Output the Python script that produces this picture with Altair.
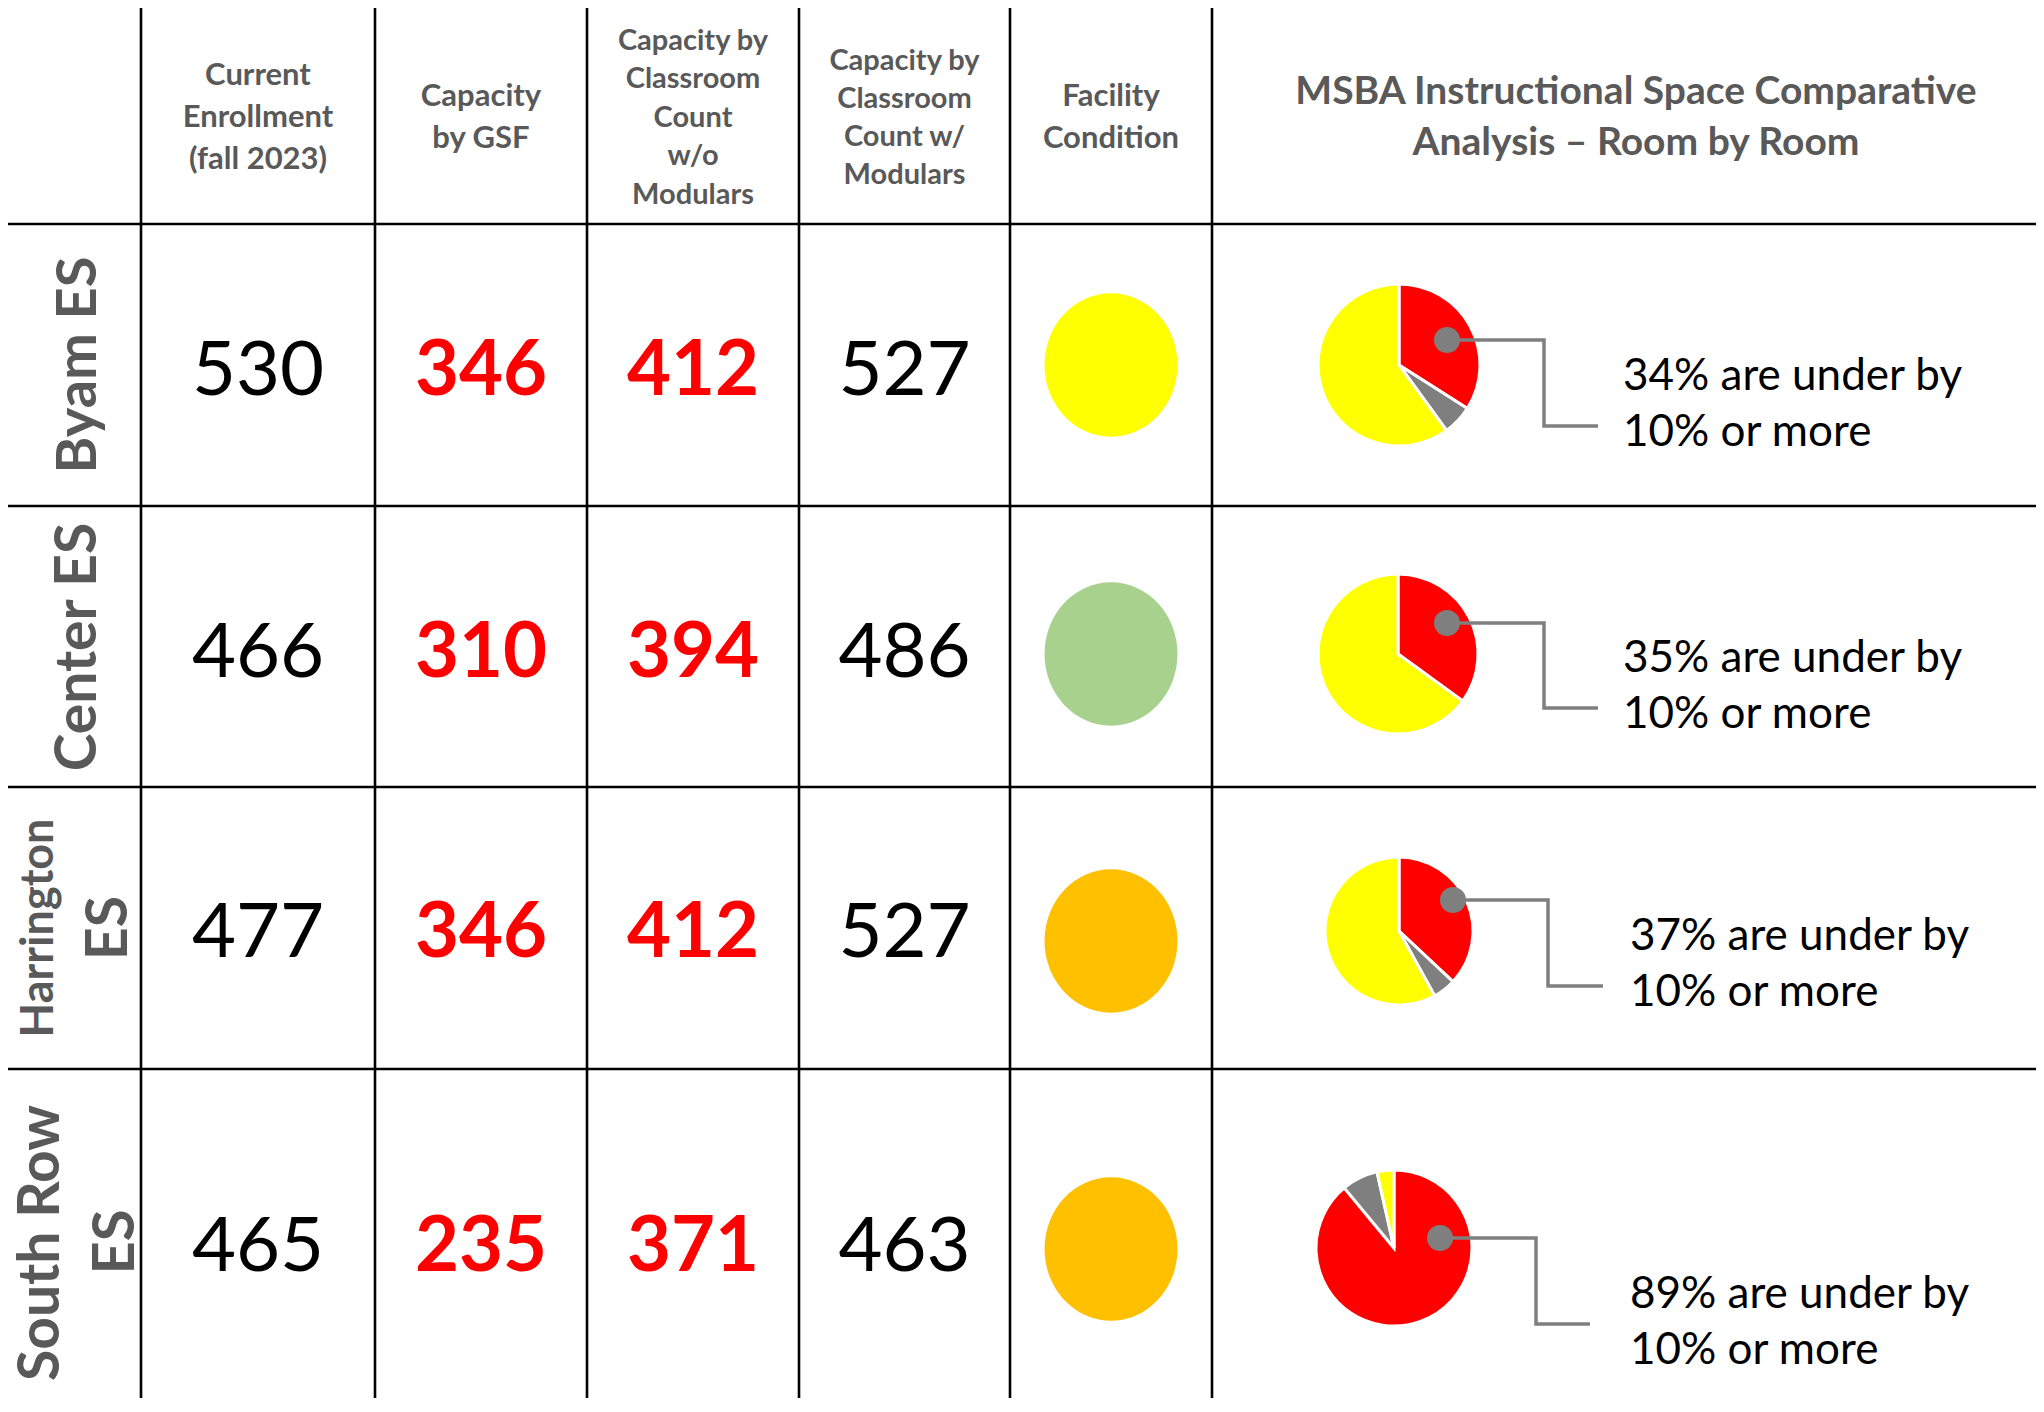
import math
import altair as alt
import pandas as pd

# ------------------------------------------------------------------ data
schools = ["Byam ES", "Center ES", "Harrington ES", "South Row ES"]
school_label_lines = [["Byam ES"], ["Center ES"], ["Harrington", "ES"], ["South Row", "ES"]]
current_enrollment = [530, 466, 477, 465]
capacity_by_gsf = [346, 310, 346, 235]
capacity_classroom_wo_modulars = [412, 394, 412, 371]
capacity_classroom_w_modulars = [527, 486, 527, 463]
facility_condition = ["Fair", "Good", "Poor", "Poor"]
pct_under_10_or_more = [34, 35, 37, 89]
pct_over_10_or_more = [6, 0, 5, 7.5]
pct_within_10 = [60, 65, 58, 3.5]
column_headers = [
    ["Current", "Enrollment", "(fall 2023)"],
    ["Capacity", "by GSF"],
    ["Capacity by", "Classroom", "Count", "w/o", "Modulars"],
    ["Capacity by", "Classroom", "Count w/", "Modulars"],
    ["Facility", "Condition"],
    ["MSBA Instructional Space Comparative", "Analysis \u2013 Room by Room"],
]
pie_parts = ["Under by 10% or more", "Over by 10% or more", "Within 10%"]
condition_levels = ["Good", "Fair", "Poor"]

# ------------------------------------------------------------------ layout / style
W, H = 2028, 1390
OX, OY = 8, 8
col_edges = [6, 141, 375, 587, 799, 1010, 1212, 2044]
row_edges = [7, 224, 506, 787, 1069, 1412]
col_centers = [(col_edges[i] + col_edges[i + 1]) / 2 for i in range(len(col_edges) - 1)]
GREY_TXT = "#595959"
RED = "#FF0000"
YELLOW = "#FFFF00"
GREY = "#7F7F7F"
cond_colors = ["#A9D18E", "#FFFF00", "#FFC000"]
part_colors = [RED, GREY, YELLOW]

header_sizes = [31, 31, 29, 29, 31, 39]
header_spacing = [42, 42, 38.5, 38, 42, 51]
header_x_shift = [0, 0, 0, 0, 0, 8]
header_center_y = 117.5

num_baseline = [395, 677, 957, 1271]
num_size = 76

label_layout = [  # (x baseline, y center, font size) per line
    [(96, 365, 56)],
    [(96, 647, 57)],
    [(53, 928, 45), (127, 928, 57)],
    [(59, 1243, 57), (134, 1242, 58)],
]

fac_y = [365, 654, 941, 1249]
fac_rx = 0.927
fac_size = 143.4 ** 2

pie_cx = [1399, 1398, 1399, 1394]
pie_cy = [365, 654, 931, 1248]
pie_r = [81, 80, 74, 78]
dot_xy = [(1447, 340), (1447, 623), (1453, 900), (1440, 1238)]
elbow_x = [1544, 1544, 1548, 1536]
leader_bottom = [426, 708, 986, 1324]
leader_end = [1598, 1598, 1603, 1590]
note_x = [1623, 1623, 1630, 1630]
note_base = [390, 672, 950, 1308]
note_gap = 56
note_size = 44

XS = alt.Scale(domain=[OX, OX + W], nice=False, zero=False)
YS = alt.Scale(domain=[OY, OY + H], nice=False, zero=False, reverse=True)
X = alt.X("x:Q", scale=XS, axis=None)
Y = alt.Y("y:Q", scale=YS, axis=None)
X2 = alt.X2("x2:Q")
Y2 = alt.Y2("y2:Q")

# ------------------------------------------------------------------ tables
grid_rows = []
for xe in col_edges[1:-1]:
    grid_rows.append(dict(x=xe, y=row_edges[0], x2=xe, y2=row_edges[-1]))
for ye in row_edges[1:-1]:
    grid_rows.append(dict(x=col_edges[0], y=ye, x2=col_edges[-1], y2=ye))
grid_df = pd.DataFrame(grid_rows)

hdr_rows = []
for c, lines in enumerate(column_headers):
    n = len(lines)
    for j, t in enumerate(lines):
        hdr_rows.append(dict(
            x=col_centers[c + 1] + header_x_shift[c],
            y=header_center_y + (j - (n - 1) / 2) * header_spacing[c],
            text=t, fs=header_sizes[c]))
hdr_df = pd.DataFrame(hdr_rows)

plain_rows, red_rows = [], []
for i in range(len(schools)):
    vals = [current_enrollment[i], capacity_by_gsf[i],
            capacity_classroom_wo_modulars[i], capacity_classroom_w_modulars[i]]
    for k, v in enumerate(vals):
        row = dict(x=col_centers[k + 1], y=num_baseline[i], text=str(v))
        (red_rows if k in (1, 2) else plain_rows).append(row)
plain_df = pd.DataFrame(plain_rows)
red_df = pd.DataFrame(red_rows)

lab_rows = []
for i, lines in enumerate(school_label_lines):
    for j, t in enumerate(lines):
        lx, ly, fs = label_layout[i][j]
        lab_rows.append(dict(x=lx, y=ly, text=t, fs=fs))
lab_df = pd.DataFrame(lab_rows)

fac_df = pd.DataFrame(dict(x=[col_centers[5]] * len(schools), y=fac_y,
                           school=schools, condition=facility_condition))

pie_rows = []
for i, s in enumerate(schools):
    shares = [pct_under_10_or_more[i], pct_over_10_or_more[i], pct_within_10[i]]
    tot = sum(shares)
    start = 0.0
    for p, v in zip(pie_parts, shares):
        v = v * 100.0 / tot
        if v > 0:
            pie_rows.append(dict(x=pie_cx[i], y=pie_cy[i], r=pie_r[i],
                                 t0=start, t1=start + v, part=p, school=s))
        start += v
pie_df = pd.DataFrame(pie_rows)

lead_rows = []
for i, s in enumerate(schools):
    dx, dy = dot_xy[i]
    pts = [(dx, dy), (elbow_x[i], dy), (elbow_x[i], leader_bottom[i]),
           (leader_end[i], leader_bottom[i])]
    for k, (px, py) in enumerate(pts):
        lead_rows.append(dict(x=px, y=py, school=s, k=k))
lead_df = pd.DataFrame(lead_rows)

dot_df = pd.DataFrame(dict(x=[d[0] for d in dot_xy], y=[d[1] for d in dot_xy], school=schools))

note_rows = []
for i, s in enumerate(schools):
    note_rows.append(dict(x=note_x[i], y=note_base[i],
                          text=f"{pct_under_10_or_more[i]}% are under by"))
    note_rows.append(dict(x=note_x[i], y=note_base[i] + note_gap, text="10% or more"))
note_df = pd.DataFrame(note_rows)

# ------------------------------------------------------------------ layers
grid = alt.Chart(grid_df).mark_rule(color="black", strokeWidth=2.6).encode(x=X, y=Y, x2=X2, y2=Y2)

ellipse_path = (f"M0,-1A{fac_rx},1,0,1,1,0,1A{fac_rx},1,0,1,1,0,-1Z")
facility = alt.Chart(fac_df).mark_point(
    shape=ellipse_path, filled=True, size=fac_size, opacity=1, strokeWidth=0
).encode(
    x=X, y=Y,
    color=alt.Color("condition:N", scale=alt.Scale(domain=condition_levels, range=cond_colors), legend=None),
)

pies = alt.Chart(pie_df).mark_arc(stroke="white", strokeWidth=3).encode(
    x=X, y=Y,
    theta=alt.Theta("t0:Q", scale=alt.Scale(domain=[0, 100], range=[0, 2 * math.pi]), stack=None),
    theta2=alt.Theta2("t1:Q"),
    radius=alt.Radius("r:Q", scale=None),
    color=alt.Color("part:N", scale=alt.Scale(domain=pie_parts, range=part_colors), legend=None),
)

leaders = alt.Chart(lead_df).mark_line(color=GREY, strokeWidth=3.5, strokeJoin="miter").encode(
    x=X, y=Y, detail="school:N", order="k:Q")

dots = alt.Chart(dot_df).mark_circle(size=676, color=GREY, opacity=1).encode(x=X, y=Y)

headers_layer = alt.Chart(hdr_df).mark_text(
    font="Lato", fontWeight="bold", color=GREY_TXT, align="center", baseline="middle"
).encode(x=X, y=Y, text="text:N", size=alt.Size("fs:Q", scale=None))

plain_nums = alt.Chart(plain_df).mark_text(
    font="Lato", fontSize=num_size, color="black", align="center", baseline="alphabetic"
).encode(x=X, y=Y, text="text:N")

red_nums = alt.Chart(red_df).mark_text(
    font="Lato", fontWeight="bold", fontSize=num_size, color=RED, align="center", baseline="alphabetic"
).encode(x=X, y=Y, text="text:N")

labels = alt.Chart(lab_df).mark_text(
    font="Lato", fontWeight="bold", color=GREY_TXT, align="center", baseline="alphabetic", angle=270
).encode(x=X, y=Y, text="text:N", size=alt.Size("fs:Q", scale=None))

notes = alt.Chart(note_df).mark_text(
    font="Lato", fontSize=note_size, color="black", align="left", baseline="alphabetic"
).encode(x=X, y=Y, text="text:N")

chart = alt.layer(
    grid, facility, pies, leaders, dots, headers_layer, plain_nums, red_nums, labels, notes
).resolve_scale(color="independent").properties(
    width=W, height=H, padding=0, autosize="none"
).configure_view(stroke=None)

chart.save("out.html", embed_options={"renderer": "svg", "actions": False})
